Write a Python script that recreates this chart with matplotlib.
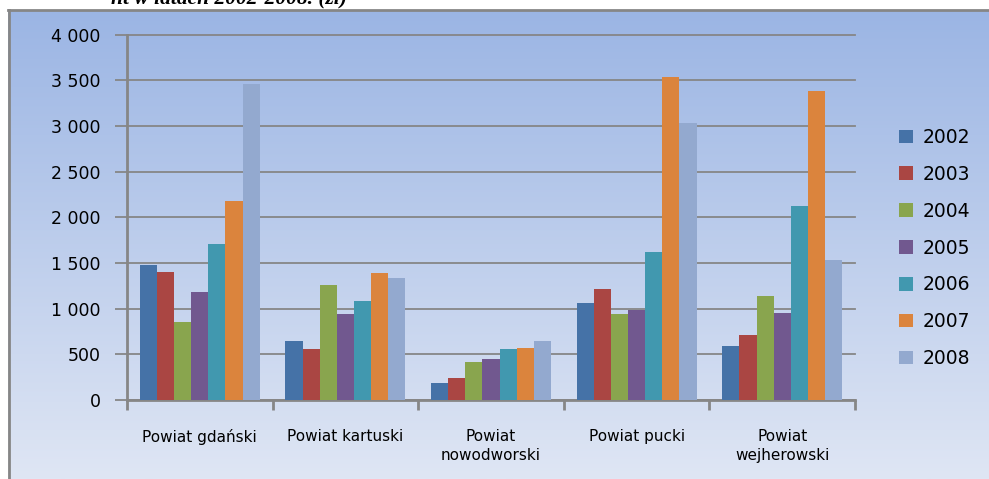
import numpy as np
import matplotlib
matplotlib.use("Agg")
import matplotlib.pyplot as plt
from matplotlib.lines import Line2D
from matplotlib.patches import Patch

# Data
powiaty = ["Powiat gdański", "Powiat kartuski", "Powiat\nnowodworski",
           "Powiat pucki", "Powiat\nwejherowski"]
lata = ["2002", "2003", "2004", "2005", "2006", "2007", "2008"]
v2002 = [1478, 646, 186, 1062, 591]
v2003 = [1401, 558, 241, 1215, 712]
v2004 = [854, 1259, 416, 942, 1139]
v2005 = [1182, 942, 449, 985, 953]
v2006 = [1708, 1084, 558, 1620, 2124]
v2007 = [2179, 1391, 569, 3536, 3383]
v2008 = [3460, 1336, 646, 3033, 1533]
serie = [v2002, v2003, v2004, v2005, v2006, v2007, v2008]
kolory = ["#4572A7", "#AA4643", "#89A54E", "#71588F", "#4198AF", "#DB843D", "#93A9CF"]

W, H = 989, 479
fig = plt.figure(figsize=(W / 100, H / 100), dpi=100)
fig.patch.set_facecolor("white")

# gradient background of the chart area
bg = fig.add_axes([8 / W, 0, (W - 8) / W, (H - 10) / H])
top = np.array([155, 181, 228]) / 255
bot = np.array([223, 230, 244]) / 255
t = np.linspace(0, 1, 256)[:, None]
grad = (top[None, :] * (1 - t) + bot[None, :] * t)[:, None, :]
bg.imshow(grad, aspect="auto", extent=[0, 1, 0, 1])
bg.set_axis_off()

# frame of the chart area
gray = "#868686"
fig.add_artist(Line2D([9 / W, 9 / W], [1 / H, 1 - 10 / H], color=gray, lw=2.0))
fig.add_artist(Line2D([8 / W, 1], [1 - 10 / H, 1 - 10 / H], color=gray, lw=2.0))

# title fragment cut off at the top (as in the source)
fig.text(347 / W, 1 - 3.5 / H, "nt w latach 2002-2008. (zł)", ha="right", va="baseline",
         fontsize=15.5, style="italic", fontweight="bold", family="Liberation Serif")

# plot area
x0, x1, y0, y1 = 127, 855, 34.7, 400
ax = fig.add_axes([x0 / W, 1 - y1 / H, (x1 - x0) / W, (y1 - y0) / H])
ax.set_facecolor("none")

n = len(powiaty)
w = 1 / 8.5
xc = np.arange(n) + 0.5
for j, (rok, vals, c) in enumerate(zip(lata, serie, kolory)):
    ax.bar(xc + (j - 3) * w, vals, width=w, color=c, label=rok, zorder=3)

ax.set_xlim(0, n)
ax.set_ylim(0, 4000)
ax.set_yticks(np.arange(0, 4001, 500))
ax.set_yticklabels([f"{v:,}".replace(",", " ") for v in range(0, 4001, 500)],
                   fontsize=12.5, family="DejaVu Sans")
ax.grid(axis="y", color=gray, lw=1.3, zorder=0)
ax.set_axisbelow(True)
for gl in ax.get_ygridlines():
    gl.set_clip_on(False)

ax.set_xticks(np.arange(n + 1))
ax.set_xticklabels([])
ax.set_xticks(xc, minor=True)
ax.set_xticklabels(powiaty, minor=True, fontsize=11, family="DejaVu Sans")
for lab in ax.get_xticklabels(minor=True):
    lab.set_linespacing(1.3)
ax.tick_params(axis="x", which="minor", length=0, pad=21)
ax.tick_params(axis="x", which="major", length=7, width=2, color=gray)
ax.tick_params(axis="y", length=9, width=1.3, color=gray, pad=10)

for s in ["top", "right"]:
    ax.spines[s].set_visible(False)
for s in ["left", "bottom"]:
    ax.spines[s].set_color(gray)
    ax.spines[s].set_linewidth(2)

handles = [Patch(facecolor=c, label=r) for r, c in zip(lata, kolory)]
fig.legend(handles=handles, loc="center left", bbox_to_anchor=(899 / W, 1 - 248 / H),
           frameon=False, fontsize=13.5, handlelength=0.75, handleheight=0.75,
           handletextpad=0.5, labelspacing=0.95, borderpad=0, borderaxespad=0)

fig.savefig("out.png", dpi=100)
